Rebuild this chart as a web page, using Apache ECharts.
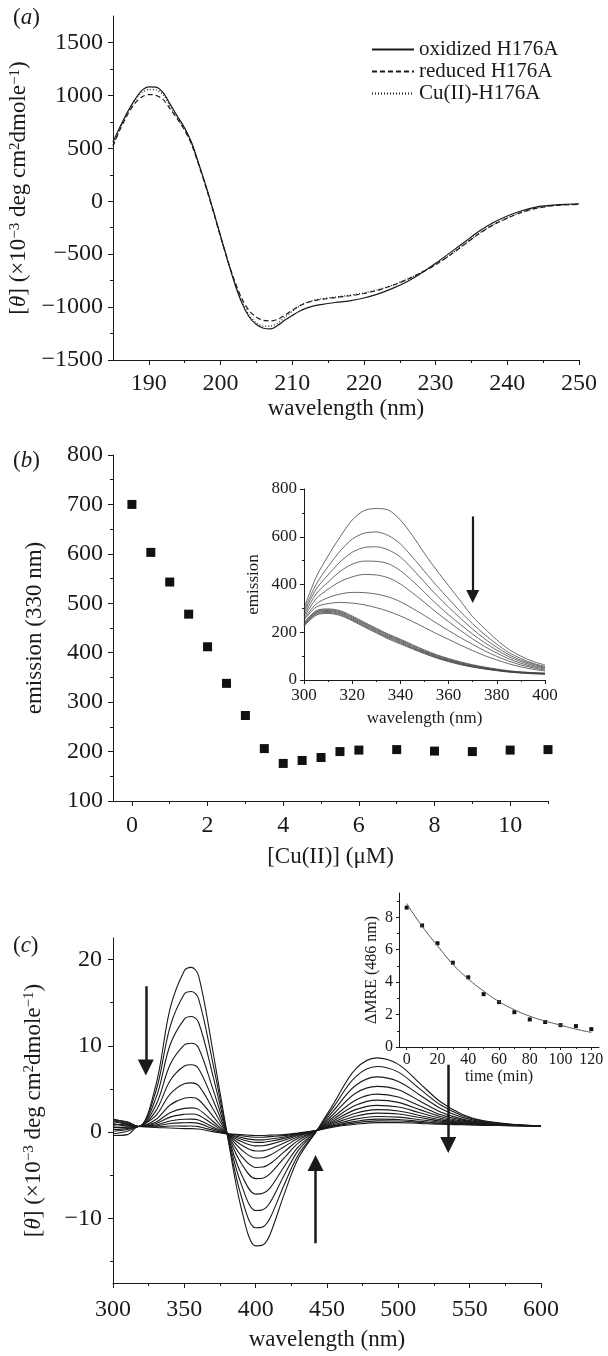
<!DOCTYPE html>
<html><head><meta charset="utf-8">
<script src="https://cdn.jsdelivr.net/npm/echarts@6/dist/echarts.min.js"></script>
<style>html,body{margin:0;padding:0;background:#fff}#c{width:608px;height:1356px}</style>
</head><body><div id="c"></div>
<script>
const FONT = "'Liberation Serif','Times New Roman',serif";
const INK = '#1a1a1a';

// ---------- panel (a) ----------
const aWave = [185,186,187,188,189,190,191,192,193,194,195,196,197,198,199,200,201,202,203,204,205,206,207,208,209,210,211,212,213,214,216,218,220,222,224,226,228,230,232,234,236,238,240,242,244,246,248,250];
const aOxidized = [560,705,840,955,1045,1080,1078,1025,913,801,691,547,346,138,-91,-327,-561,-782,-965,-1094,-1165,-1200,-1205,-1172,-1123,-1080,-1040,-1010,-988,-976,-957,-941,-914,-875,-823,-760,-680,-587,-488,-388,-287,-204,-140,-90,-55,-39,-30,-24];
const aReduced = [520,680,815,920,985,1008,1000,960,870,775,670,530,335,125,-100,-335,-560,-760,-925,-1035,-1095,-1125,-1130,-1115,-1075,-1030,-990,-960,-940,-928,-910,-893,-872,-840,-795,-740,-675,-600,-510,-410,-310,-225,-160,-105,-68,-45,-34,-30];
const aCu = [530,690,830,945,1025,1055,1052,1005,895,790,680,540,340,130,-95,-330,-560,-775,-950,-1075,-1150,-1180,-1180,-1150,-1095,-1040,-990,-955,-935,-922,-905,-888,-866,-835,-792,-738,-672,-597,-507,-407,-307,-222,-157,-103,-66,-44,-33,-29];
const aNames = ['oxidized H176A','reduced H176A','Cu(II)-H176A'];
const aXTicks = [190,200,210,220,230,240,250];
const aXMinor = [195,205,215,225,235,245];
const aYTicks = [-1500,-1000,-500,0,500,1000,1500];
const aYMinor = [-1250,-750,-250,250,750,1250];

// ---------- panel (b) ----------
const bConc = [0,0.5,1,1.5,2,2.5,3,3.5,4,4.5,5,5.5,6,7,8,9,10,11];
const bEmission = [700,603,543,478,412,338,273,206,176,182,188,200,203,204,201,200,203,204];
const bXTicks = [0,2,4,6,8,10];
const bXMinor = [1,3,5,7,9,11];
const bYTicks = [100,200,300,400,500,600,700,800];
const bYMinor = [150,250,350,450,550,650,750];
// inset (b): emission spectra
const bWave = [300,305,310,315,320,325,330,335,340,345,350,355,360,365,370,375,380,385,390,395,400];
const bSpec1 = [300,430,520,600,670,710,718,712,670,605,530,460,395,330,265,215,168,128,100,78,63];
const bSpec2 = [290,400,475,540,590,615,620,605,570,515,455,395,340,285,235,190,150,115,90,70,57];
const bSpec3 = [280,380,440,495,535,555,558,545,515,465,410,355,305,258,213,172,137,106,83,66,53];
const bSpec4 = [270,360,410,455,485,498,497,487,458,415,367,318,273,232,192,156,125,98,77,61,50];
const bSpec5 = [262,340,380,412,432,442,440,428,402,365,325,283,244,207,172,140,113,89,70,56,46];
const bSpec6 = [255,318,345,360,367,366,360,348,328,300,270,238,207,177,149,122,99,79,63,51,42];
const bSpec7 = [250,305,320,325,322,315,303,288,268,245,220,194,170,146,123,102,84,68,55,45,38];
const bSpec8 = [240,290,298,290,268,242,217,192,171,148,126,106,90,76,64,54,46,39,34,31,29];
const bSpec9 = [236,286,294,286,264,238,213,188,167,144,122,103,87,73,61,52,44,37,33,30,28];
const bSpec10 = [233,283,291,282,260,234,209,184,163,140,119,100,84,70,59,50,42,36,32,29,27];
const bSpec11 = [230,279,287,278,256,230,205,180,159,136,116,97,81,68,57,48,41,35,31,28,26];
const bSpec12 = [228,275,283,274,252,226,201,176,155,133,113,94,79,66,55,47,40,34,30,27,25];
const bSpec13 = [225,271,279,270,248,222,197,172,151,130,110,92,77,64,54,46,39,33,29,26,24];
const bSpectra = [bSpec1,bSpec2,bSpec3,bSpec4,bSpec5,bSpec6,bSpec7,bSpec8,bSpec9,bSpec10,bSpec11,bSpec12,bSpec13];
const bInXTicks = [300,320,340,360,380,400];
const bInXMinor = [310,330,350,370,390];
const bInYTicks = [0,200,400,600,800];
const bInYMinor = [100,300,500,700];
const bArrow = [[370,685],[370,350]];

// ---------- panel (c) ----------
const cWave = [300,310,318,330,340,350,355,360,370,380,390,400,405,410,420,430,443,455,470,485,500,515,530,545,560,580,600];
const cSpec1 = [1.3,1.0,0.65,5.4,14.3,18.7,19.1,18.1,9.4,-0.2,-8.9,-13.2,-13.1,-11.9,-7.2,-3.0,0.2,3.4,7.3,8.6,7.85,5.65,3.45,2.05,1.3,0.9,0.7];
const cSpec2 = [1.5,1.1,0.65,4.7,12.2,16.0,16.3,15.45,8.0,-0.2,-7.5,-11.1,-11.0,-10.0,-6.1,-2.6,0.2,3.0,6.4,7.6,6.95,5.0,3.1,1.9,1.26,0.88,0.7];
const cSpec3 = [1.2,0.9,0.65,3.9,10.1,13.1,13.4,12.7,6.55,-0.2,-6.1,-9.1,-9.0,-8.2,-5.0,-2.1,0.2,2.56,5.4,6.4,5.87,4.3,2.7,1.7,1.17,0.86,0.7];
const cSpec4 = [0.9,0.8,0.65,3.1,7.8,10.1,10.3,9.75,5.0,-0.2,-4.9,-7.2,-7.1,-6.5,-4.0,-1.7,0.2,2.15,4.5,5.3,4.9,3.6,2.3,1.5,1.1,0.83,0.7];
const cSpec5 = [1.4,1.2,0.65,2.45,5.95,7.65,7.8,7.35,3.75,-0.2,-3.65,-5.4,-5.35,-4.85,-3.0,-1.25,0.2,1.8,3.7,4.4,4.07,3.05,2.0,1.38,1.03,0.82,0.7];
const cSpec6 = [0.6,0.5,0.65,1.9,4.4,5.6,5.7,5.38,2.7,-0.2,-2.78,-4.1,-4.06,-3.68,-2.3,-0.95,0.2,1.56,3.1,3.7,3.44,2.6,1.78,1.27,0.98,0.8,0.7];
const cSpec7 = [1.0,0.7,0.65,1.46,3.14,3.93,4.0,3.75,1.85,-0.2,-2.04,-3.0,-2.97,-2.69,-1.7,-0.7,0.2,1.34,2.6,3.1,2.9,2.24,1.58,1.17,0.94,0.79,0.7];
const cSpec8 = [0.3,0.4,0.65,1.15,2.25,2.75,2.8,2.63,1.25,-0.2,-1.5,-2.2,-2.18,-1.97,-1.27,-0.51,0.2,1.16,2.18,2.6,2.45,1.93,1.41,1.09,0.9,0.78,0.7];
const cSpec9 = [0.8,0.9,0.65,0.97,1.73,2.06,2.1,1.96,0.9,-0.2,-1.1,-1.6,-1.59,-1.43,-0.95,-0.38,0.2,1.01,1.84,2.2,2.09,1.68,1.27,1.03,0.88,0.77,0.7];
const cSpec10 = [-0.2,0.1,0.65,0.81,1.29,1.48,1.5,1.39,0.6,-0.2,-0.84,-1.2,-1.19,-1.07,-0.73,-0.28,0.2,0.86,1.5,1.8,1.73,1.43,1.14,0.96,0.85,0.76,0.7];
const cSpec11 = [0.5,0.6,0.65,0.71,0.99,1.08,1.1,1.01,0.4,-0.2,-0.64,-0.9,-0.9,-0.8,-0.57,-0.22,0.2,0.75,1.24,1.5,1.46,1.25,1.04,0.91,0.83,0.75,0.7];
const cSpec12 = [-0.4,-0.3,0.65,0.6,0.7,0.69,0.7,0.63,0.2,-0.2,-0.43,-0.6,-0.6,-0.53,-0.41,-0.15,0.2,0.67,1.07,1.3,1.28,1.12,0.97,0.88,0.81,0.75,0.7];
const cSpec13 = [0.1,0.3,0.65,0.53,0.47,0.4,0.4,0.35,0.05,-0.2,-0.3,-0.4,-0.4,-0.35,-0.3,-0.1,0.2,0.6,0.9,1.1,1.1,1.0,0.9,0.85,0.8,0.75,0.7];
const cSpectra = [cSpec1,cSpec2,cSpec3,cSpec4,cSpec5,cSpec6,cSpec7,cSpec8,cSpec9,cSpec10,cSpec11,cSpec12,cSpec13];
const cXTicks = [300,350,400,450,500,550,600];
const cXMinor = [325,375,425,475,525,575];
const cYTicks = [-10,0,10,20];
const cYMinor = [-15,-5,5,15];
const cArrows = [
  [[323,16.9],[323,7.5]],
  [[442,-12.9],[442,-3.6]],
  [[535,7.8],[535,-1.5]]
];
// inset (c): ΔMRE at 486 nm vs time
const cTime = [0,10,20,30,40,50,60,70,80,90,100,110,120];
const cMRE = [8.6,7.5,6.4,5.2,4.3,3.26,2.77,2.15,1.7,1.54,1.35,1.29,1.1];
const cFit = [8.85,7.45,6.25,5.1,4.2,3.45,2.8,2.3,1.9,1.6,1.35,1.1,0.9];
const cInXTicks = [0,20,40,60,80,100,120];
const cInXMinor = [10,30,50,70,90,110];
const cInYTicks = [0,2,4,6,8];
const cInYMinor = [1,3,5,7,9];

// ---------- helpers ----------
const zip = (xs, ys) => xs.map((x, i) => [x, ys[i]]);
const fmtNum = v => (v < 0 ? '\u2212' + Math.abs(v) : String(v));
const xAxes = [], yAxes = [];
function addAxes(list, dir, gridIndex, min, max, major, minor, o) {
  const pos = dir === 'x' ? 'bottom' : 'left';
  const line = {color: INK, width: 1};
  const idx = list.length;
  list.push({
    type: 'value', gridIndex, min, max, position: pos,
    name: o.name, nameLocation: 'middle', nameGap: o.nameGap, nameRotate: dir === 'y' ? 90 : 0,
    nameTextStyle: {fontFamily: FONT, fontSize: o.nameSize, color: INK, rich: o.rich},
    axisLine: {show: true, onZero: false, lineStyle: line},
    axisTick: {show: true, inside: false, length: o.tick || 5, customValues: major, lineStyle: line},
    axisLabel: {show: true, customValues: major, margin: o.margin, fontFamily: FONT, fontSize: o.fs, color: INK, formatter: fmtNum, hideOverlap: false},
    splitLine: {show: false}, minorTick: {show: false}
  });
  list.push({
    type: 'value', gridIndex, min, max, position: pos,
    axisLine: {show: false, onZero: false},
    axisTick: {show: true, inside: false, length: o.minorTick || 3, customValues: minor, lineStyle: line},
    axisLabel: {show: false}, splitLine: {show: false}
  });
  return idx;
}
const supRich = {
  i: {fontStyle: 'italic', fontFamily: FONT, fontSize: 23, color: INK},
  s: {fontFamily: FONT, fontSize: 15, color: INK, verticalAlign: 'top'}
};
const thetaName = '[{i|\u03B8}] (\u00D710{s|\u22123} deg cm{s|2}dmole{s|\u22121})';

const grids = [
  {left: 113, top: 16, width: 466, height: 344},
  {left: 113, top: 455, width: 435, height: 346},
  {left: 304, top: 489, width: 241, height: 191},
  {left: 113, top: 938, width: 428, height: 345},
  {left: 399, top: 893, width: 200, height: 154}
].map(g => Object.assign(g, {containLabel: false, outerBoundsMode: 'none'}));

const ax = {};
ax.aX = addAxes(xAxes, 'x', 0, 185, 250, aXTicks, aXMinor, {name: 'wavelength (nm)', nameGap: 37, nameSize: 23, fs: 24, margin: 12});
ax.aY = addAxes(yAxes, 'y', 0, -1500, 1750, aYTicks, aYMinor, {name: thetaName, rich: supRich, nameGap: 73, nameSize: 23, fs: 24, margin: 10});
ax.bX = addAxes(xAxes, 'x', 1, -0.5, 11, bXTicks, bXMinor, {name: '[Cu(II)] (\u03BCM)', nameGap: 44, nameSize: 23, fs: 24, margin: 13});
ax.bY = addAxes(yAxes, 'y', 1, 100, 800, bYTicks, bYMinor, {name: 'emission (330 nm)', nameGap: 67, nameSize: 23, fs: 24, margin: 10});
ax.biX = addAxes(xAxes, 'x', 2, 300, 400, bInXTicks, bInXMinor, {name: 'wavelength (nm)', nameGap: 30, nameSize: 17, fs: 17, margin: 7, tick: 4, minorTick: 2});
ax.biY = addAxes(yAxes, 'y', 2, 0, 800, bInYTicks, bInYMinor, {name: 'emission', nameGap: 42, nameSize: 17, fs: 17, margin: 7, tick: 4, minorTick: 2});
ax.cX = addAxes(xAxes, 'x', 3, 300, 600, cXTicks, cXMinor, {name: 'wavelength (nm)', nameGap: 45, nameSize: 23, fs: 24, margin: 15});
ax.cY = addAxes(yAxes, 'y', 3, -17.5, 22.5, cYTicks, cYMinor, {name: thetaName, rich: supRich, nameGap: 68, nameSize: 23, fs: 24, margin: 11});
ax.ciX = addAxes(xAxes, 'x', 4, -5, 125, cInXTicks, cInXMinor, {name: 'time (min)', nameGap: 12, nameSize: 16, fs: 16, margin: 5, tick: 3, minorTick: 2});
ax.ciY = addAxes(yAxes, 'y', 4, 0, 9.5, cInYTicks, cInYMinor, {name: '\u0394MRE (486 nm)', nameGap: 19, nameSize: 16, fs: 16, margin: 6, tick: 3, minorTick: 2});

const series = [];
const lineTypes = ['solid', [5, 3], [1, 2]];
[aOxidized, aReduced, aCu].forEach((vals, k) => {
  series.push({type: 'line', name: aNames[k], xAxisIndex: ax.aX, yAxisIndex: ax.aY, data: zip(aWave, vals),
    symbol: 'none', smooth: 0.3, lineStyle: {color: INK, width: 1.2, type: lineTypes[k]}, itemStyle: {color: INK}, silent: true});
});
series.push({type: 'scatter', name: 'emission330', xAxisIndex: ax.bX, yAxisIndex: ax.bY, data: zip(bConc, bEmission),
  symbol: 'rect', symbolSize: 9, itemStyle: {color: '#111', opacity: 1}, silent: true});
bSpectra.forEach((vals, k) => {
  series.push({type: 'line', name: 'spec' + k, xAxisIndex: ax.biX, yAxisIndex: ax.biY, data: zip(bWave, vals),
    symbol: 'none', smooth: 0.3, lineStyle: {color: '#444', width: 0.8}, silent: true});
});
series.push({type: 'lines', coordinateSystem: 'cartesian2d', xAxisIndex: ax.biX, yAxisIndex: ax.biY,
  data: [{coords: bArrow}], symbol: ['none', 'triangle'], symbolSize: 13,
  lineStyle: {color: INK, width: 2.2, opacity: 1}, itemStyle: {color: INK}, silent: true, z: 5});
cSpectra.forEach((vals, k) => {
  series.push({type: 'line', name: 'cd' + k, xAxisIndex: ax.cX, yAxisIndex: ax.cY, data: zip(cWave, vals),
    symbol: 'none', smooth: 0.35, lineStyle: {color: INK, width: 1.1}, silent: true});
});
series.push({type: 'lines', coordinateSystem: 'cartesian2d', xAxisIndex: ax.cX, yAxisIndex: ax.cY,
  data: cArrows.map(c => ({coords: c})), symbol: ['none', 'triangle'], symbolSize: 16,
  lineStyle: {color: INK, width: 2.5, opacity: 1}, itemStyle: {color: INK}, silent: true, z: 5});
series.push({type: 'line', name: 'fit', xAxisIndex: ax.ciX, yAxisIndex: ax.ciY, data: zip(cTime, cFit),
  symbol: 'none', smooth: true, lineStyle: {color: '#555', width: 1}, silent: true});
series.push({type: 'scatter', name: 'mre', xAxisIndex: ax.ciX, yAxisIndex: ax.ciY, data: zip(cTime, cMRE),
  symbol: 'rect', symbolSize: 4, itemStyle: {color: '#111', opacity: 1}, silent: true});

const panelTitle = (letter, top) => ({
  text: '({i|' + letter + '})', left: 8, top: top,
  textStyle: {fontFamily: FONT, fontSize: 23, fontWeight: 'normal', color: INK,
    rich: {i: {fontFamily: FONT, fontSize: 23, fontStyle: 'italic', color: INK}}}
});

const option = {
  animation: false,
  backgroundColor: '#fff',
  textStyle: {fontFamily: FONT},
  title: [panelTitle('a', 1), panelTitle('b', 444), panelTitle('c', 929)],
  legend: {
    data: aNames, orient: 'vertical', left: 366, top: 34, itemWidth: 42, itemHeight: 14, itemGap: 1,
    selectedMode: false, itemStyle: {opacity: 0, borderWidth: 0},
    textStyle: {fontFamily: FONT, fontSize: 21, color: INK}
  },
  grid: grids,
  xAxis: xAxes,
  yAxis: yAxes,
  series: series
};
const chart = echarts.init(document.getElementById('c'), null, {renderer: 'canvas', width: 608, height: 1356});
chart.setOption(option);
</script></body></html>
